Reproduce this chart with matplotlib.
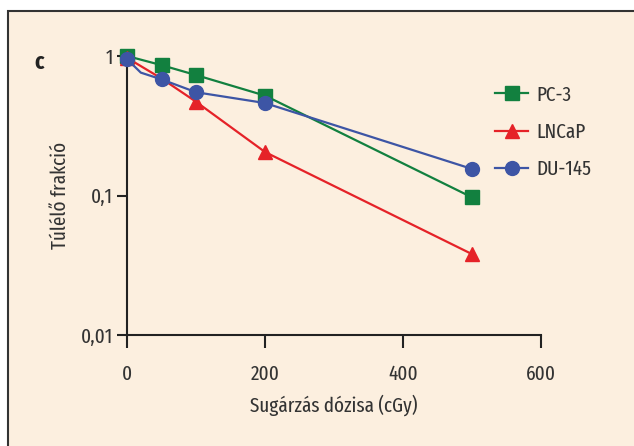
import numpy as np
import matplotlib.pyplot as plt
from matplotlib.patches import Rectangle

# Túlélő frakció a sugárdózis függvényében
dozis_pc3 = [0, 50, 100, 200, 500]
tulelo_pc3 = [1.0, 0.86, 0.73, 0.52, 0.097]

dozis_lncap = [0, 50, 100, 200, 500]
tulelo_lncap = [0.97, 0.69, 0.47, 0.205, 0.038]

dozis_du145 = [0, 20, 50, 100, 200, 500]
tulelo_du145 = [0.95, 0.76, 0.68, 0.55, 0.46, 0.155]

x_ticks = [0, 200, 400, 600]
y_ticks = [0.01, 0.1, 1]
y_tick_labels = ['0,01', '0,1', '1']

hatter = '#fcefdf'
szoveg = '#333333'
betu = 'Fira Sans Extra Condensed'
vastag = 'normal'
meret = 15

fig = plt.figure(figsize=(6.34, 4.46), dpi=100, facecolor='white')
# keret a háttérrel
fig.patches.append(Rectangle((8 / 634, -0.1), 1.2, 1 - 11 / 446 + 0.1,
                             transform=fig.transFigure, facecolor=hatter,
                             edgecolor='#333333', linewidth=1.5, zorder=-10))

ax = fig.add_axes([127 / 634, 1 - 335 / 446, 414 / 634, 279 / 446])
ax.set_facecolor('none')

ax.plot(dozis_pc3, tulelo_pc3, color='#12803f', lw=1.6, marker='s', ms=10,
        label='PC-3', clip_on=False, zorder=3)
ax.plot(dozis_lncap, tulelo_lncap, color='#e52228', lw=1.6, marker='^', ms=10,
        label='LNCaP', clip_on=False, zorder=4, markevery=[0, 2, 3, 4])
ax.plot(dozis_du145, tulelo_du145, color='#3d55a5', lw=1.6, marker='o', ms=10,
        label='DU-145', clip_on=False, zorder=5, markevery=[0, 2, 3, 4, 5])

ax.set_yscale('log')
ax.set_ylim(0.01, 1)
ax.set_xlim(0, 600)
ax.set_xticks(x_ticks)
ax.set_yticks(y_ticks)
ax.set_yticklabels(y_tick_labels)
ax.yaxis.set_minor_locator(plt.NullLocator())

for s in ['top', 'right']:
    ax.spines[s].set_visible(False)
for s in ['left', 'bottom']:
    ax.spines[s].set_color('#222222')
    ax.spines[s].set_linewidth(1.5)
ax.tick_params(axis='x', length=9, width=1.5, color='#222222', pad=12,
               labelsize=meret, labelcolor=szoveg)
ax.tick_params(axis='y', length=7, width=1.5, color='#222222', pad=3,
               labelsize=meret, labelcolor=szoveg)
for t in ax.get_xticklabels() + ax.get_yticklabels():
    t.set_fontfamily(betu)
    t.set_fontweight(vastag)

ax.set_xlabel('Sugárzás dózisa (cGy)', fontsize=meret, color=szoveg,
              fontfamily=betu, fontweight=vastag, labelpad=8)
ax.set_ylabel('Túlélő frakció', fontsize=meret, color=szoveg,
              fontfamily=betu, fontweight=vastag, labelpad=8)

fig.text(34 / 634, 1 - 62 / 446, 'c', fontsize=17, fontweight='bold',
         color='#222222', fontfamily=betu, va='center')

leg = fig.legend(loc='upper left', bbox_to_anchor=(495 / 634, 1 - 85 / 446),
                 frameon=False, handlelength=1.6, handletextpad=0.4,
                 labelspacing=0.85, borderpad=0, borderaxespad=0,
                 prop={'family': betu, 'size': meret, 'weight': vastag})
for t in leg.get_texts():
    t.set_color(szoveg)

fig.savefig('out.png', dpi=100, facecolor='white')
